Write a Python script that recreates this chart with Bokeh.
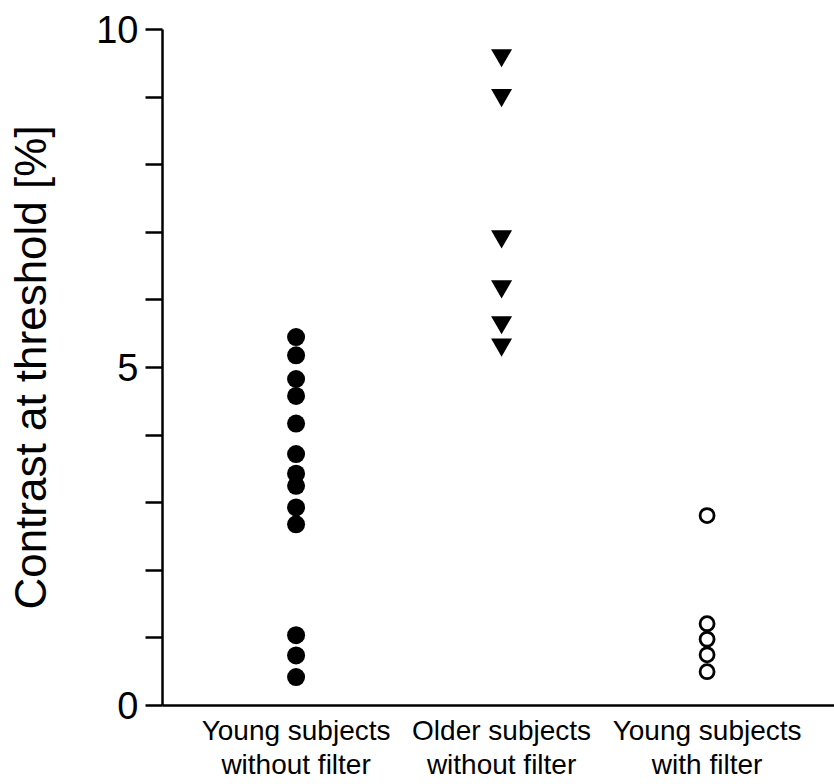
from bokeh.plotting import figure
from bokeh.models import FixedTicker, Range1d
from bokeh.embed import file_html
from bokeh.resources import INLINE

# ---- data ----
categories = ["Young subjects\nwithout filter", "Older subjects\nwithout filter", "Young subjects\nwith filter"]
cat_pos = [1, 2, 3]
young_no_filter = [5.45, 5.18, 4.83, 4.58, 4.17, 3.72, 3.43, 3.25, 2.93, 2.68, 1.04, 0.74, 0.42]
older_no_filter = [9.62, 9.03, 6.94, 6.20, 5.67, 5.34]
young_with_filter = [2.81, 1.21, 0.98, 0.75, 0.50]
y_ticks = [0, 1, 2, 3, 4, 5, 6, 7, 8, 9, 10]
y_tick_labels = {0: "0", 5: "5", 10: "10"}
y_label = "Contrast at threshold [%]"

p = figure(width=834, height=784, output_backend="svg", toolbar_location=None,
           x_range=Range1d(0.35, 3.62), y_range=Range1d(0, 10),
           min_border_left=162, min_border_right=0, min_border_top=29, min_border_bottom=79)
p.outline_line_color = None
p.xgrid.visible = False
p.ygrid.visible = False
p.background_fill_color = "white"
p.border_fill_color = "white"

# y axis
ya = p.yaxis[0]
ya.ticker = FixedTicker(ticks=y_ticks)
ya.major_label_overrides = {t: y_tick_labels.get(t, "") for t in y_ticks}
ya.major_tick_out = 17
ya.major_tick_in = 0
ya.minor_tick_out = 0
ya.minor_tick_in = 0
ya.major_tick_line_width = 2.5
ya.axis_line_width = 2.5
ya.axis_line_color = "black"
ya.major_tick_line_color = "black"
ya.major_label_standoff = 7
ya.major_label_text_font = "Liberation Sans"
ya.major_label_text_font_size = "38px"
ya.major_label_text_color = "black"
ya.axis_label = y_label
ya.axis_label_text_font = "Liberation Sans"
ya.axis_label_text_font_size = "44px"
ya.axis_label_text_font_style = "normal"
ya.axis_label_text_color = "black"
ya.axis_label_standoff = 38

# x axis with category labels
xa = p.xaxis[0]
xa.ticker = FixedTicker(ticks=cat_pos)
xa.major_label_overrides = {c: t for c, t in zip(cat_pos, categories)}
xa.major_tick_out = 0
xa.major_tick_in = 0
xa.minor_tick_out = 0
xa.minor_tick_in = 0
xa.major_label_standoff = 9
xa.major_label_text_font = "Liberation Sans"
xa.major_label_text_font_size = "28px"
xa.major_label_text_line_height = 1.12
xa.major_label_text_color = "black"
xa.axis_line_width = 2.5
xa.axis_line_color = "black"

# points
p.scatter([cat_pos[0]] * len(young_no_filter), young_no_filter, marker="circle",
          size=18, fill_color="black", line_color=None)
p.scatter([cat_pos[1]] * len(older_no_filter), older_no_filter, marker="inverted_triangle",
          size=21, fill_color="black", line_color=None)
p.scatter([cat_pos[2]] * len(young_with_filter), young_with_filter, marker="circle",
          size=14, fill_color="white", line_color="black", line_width=2.8)

open("out.html", "w").write(file_html(p, INLINE))
